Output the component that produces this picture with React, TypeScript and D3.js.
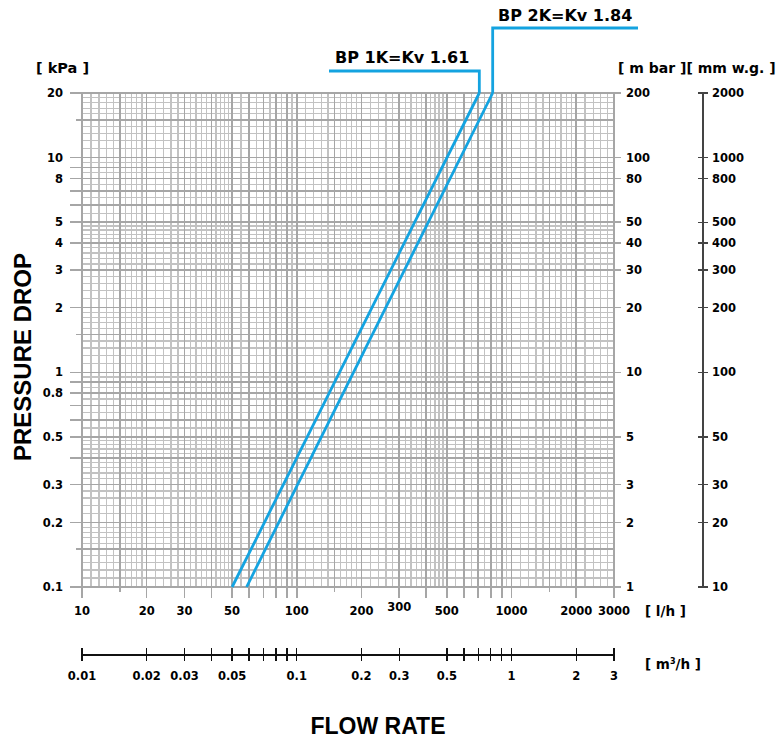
import React from "react";
import * as d3 from "d3";

const W = 784;
const H = 740;

// Series (flow l/h vs pressure drop kPa)
const bp1Flow = [50, 708];
const bp1Drop = [0.1, 20];
const bp2Flow = [58.4, 817];
const bp2Drop = [0.1, 20];
const seriesNames = ["BP 1K=Kv 1.61", "BP 2K=Kv 1.84"];

// Tick labels
const kpaLabels = [20, 10, 8, 5, 4, 3, 2, 1, 0.8, 0.5, 0.3, 0.2, 0.1];
const mbarLabels = [200, 100, 80, 50, 40, 30, 20, 10, 5, 3, 2, 1];
const mmwgLabels = [2000, 1000, 800, 500, 400, 300, 200, 100, 50, 30, 20, 10];
const lhLabels = [10, 20, 30, 50, 100, 200, 300, 500, 1000, 2000, 3000];
const m3hLabels = [0.01, 0.02, 0.03, 0.05, 0.1, 0.2, 0.3, 0.5, 1, 2, 3];
const m3hTicks = [0.01, 0.02, 0.03, 0.04, 0.05, 0.06, 0.07, 0.08, 0.09, 0.1, 0.2, 0.3, 0.5, 0.6, 0.7, 0.8, 0.9, 1, 2, 3];
const mantissas = [1, 1.5, 2, 3, 4, 5, 6, 7, 8, 9];

const X0 = 82, X1 = 614, Y0 = 587, Y1 = 93;
const x = d3.scaleLog().domain([10, 3000]).range([X0, X1]);
const xm3 = d3.scaleLog().domain([0.01, 3]).range([X0, X1]);
const y = d3.scaleLog().domain([0.1, 20]).range([Y0, Y1]);
const yMbar = d3.scaleLog().domain([1, 200]).range([Y0, Y1]);
const yMm = d3.scaleLog().domain([10, 2000]).range([Y0, Y1]);

function logGrid(lo: number, hi: number) {
  const out: { v: number; major: boolean }[] = [];
  for (let dec = Math.floor(Math.log10(lo)); dec <= Math.ceil(Math.log10(hi)); dec++) {
    const b = Math.pow(10, dec);
    const steps: [number, number, number][] = [[1, 2, 0.1], [2, 5, 0.2], [5, 10, 0.5]];
    for (const [a, c, s] of steps) {
      const n = Math.round((c - a) / s);
      for (let i = 0; i < n; i++) {
        const m = +(a + i * s).toFixed(2);
        const v = +(m * b).toPrecision(6);
        if (v >= lo * 0.999 && v <= hi * 1.001) {
          out.push({ v, major: mantissas.includes(m) });
        }
      }
    }
  }
  out.push({ v: hi, major: true });
  return out;
}

const fmt = (v: number) => String(v);
const LBL = "'DejaVu Sans', sans-serif";
const TTL = "'Liberation Sans', Arial, sans-serif";
const BLUE = "#14a3e0";

export default function App() {
  const xGrid = logGrid(10, 3000);
  const yGrid = logGrid(0.1, 20);
  const line = d3.line<[number, number]>().x(d => x(d[0])).y(d => y(d[1]));
  const s1: [number, number][] = bp1Flow.map((f, i) => [f, bp1Drop[i]]);
  const s2: [number, number][] = bp2Flow.map((f, i) => [f, bp2Drop[i]]);
  const top1 = x(bp1Flow[1]);
  const top2 = x(bp2Flow[1]);

  const xTickVals = xGrid.filter(g => g.major).map(g => g.v);
  const yTickVals = yGrid.filter(g => g.major).map(g => g.v);
  const isShort = (v: number) => Math.abs(v / Math.pow(10, Math.floor(Math.log10(v))) - 1.5) < 1e-6;

  return (
    <svg width={W} height={H} style={{ position: "absolute", left: 0, top: 0, background: "#fff" }}>
      {/* grid */}
      <g shapeRendering="crispEdges">
        {xGrid.filter(g => !g.major).map((g, i) => (
          <line key={"xm" + i} x1={x(g.v)} x2={x(g.v)} y1={Y1} y2={Y0} stroke="#c2c2c2" strokeWidth={1.3} />
        ))}
        {yGrid.filter(g => !g.major).map((g, i) => (
          <line key={"ym" + i} x1={X0} x2={X1} y1={y(g.v)} y2={y(g.v)} stroke="#c2c2c2" strokeWidth={1.3} />
        ))}
        {xGrid.filter(g => g.major).map((g, i) => (
          <line key={"xM" + i} x1={x(g.v)} x2={x(g.v)} y1={Y1} y2={Y0} stroke="#a6a6a6" strokeWidth={1.6} />
        ))}
        {yGrid.filter(g => g.major).map((g, i) => (
          <line key={"yM" + i} x1={X0} x2={X1} y1={y(g.v)} y2={y(g.v)} stroke="#a6a6a6" strokeWidth={1.6} />
        ))}
        {/* left ticks */}
        {yTickVals.map((v, i) => (
          <line key={"lt" + i} x1={isShort(v) ? 76 : 70} x2={X0} y1={y(v)} y2={y(v)} stroke="#a6a6a6" strokeWidth={1.6} />
        ))}
        {/* bottom ticks */}
        {xTickVals.map((v, i) => (
          <line key={"bt" + i} x1={x(v)} x2={x(v)} y1={Y0} y2={isShort(v) ? 592 : 598} stroke="#a6a6a6" strokeWidth={1.6} />
        ))}
        {/* right mbar ticks */}
        {mbarLabels.map((v, i) => (
          <line key={"rt" + i} x1={X1} x2={621} y1={yMbar(v)} y2={yMbar(v)} stroke="#a6a6a6" strokeWidth={1.6} />
        ))}
      </g>

      {/* left labels */}
      {kpaLabels.map((v, i) => (
        <text key={"kl" + i} x={63} y={y(v)} dy="0.36em" textAnchor="end" fontFamily={LBL} fontWeight="bold" fontSize={11.5}>{fmt(v)}</text>
      ))}
      {/* mbar labels */}
      {mbarLabels.map((v, i) => (
        <text key={"ml" + i} x={626} y={yMbar(v)} dy="0.36em" fontFamily={LBL} fontWeight="bold" fontSize={11.5}>{fmt(v)}</text>
      ))}
      {/* mm w.g. axis */}
      <g shapeRendering="crispEdges">
        <line x1={703} x2={703} y1={yMm(2000)} y2={yMm(10)} stroke="#444" strokeWidth={1.5} />
        {mmwgLabels.map((v, i) => (
          <line key={"mt" + i} x1={698} x2={708} y1={yMm(v)} y2={yMm(v)} stroke="#444" strokeWidth={1.5} />
        ))}
      </g>
      {mmwgLabels.map((v, i) => (
        <text key={"wl" + i} x={712} y={yMm(v)} dy="0.36em" fontFamily={LBL} fontWeight="bold" fontSize={11.5}>{fmt(v)}</text>
      ))}

      {/* bottom l/h labels */}
      {lhLabels.map((v, i) => (
        <text key={"bl" + i} x={x(v)} y={v === 300 ? 607 : 611} dy="0.36em" textAnchor="middle" fontFamily={LBL} fontWeight="bold" fontSize={11.5}>{fmt(v)}</text>
      ))}
      <text x={645} y={611} dy="0.36em" fontFamily={LBL} fontWeight="bold" fontSize={13.5}>[ l/h ]</text>

      {/* m3/h axis */}
      <g shapeRendering="crispEdges">
        <line x1={X0} x2={X1} y1={655} y2={655} stroke="#111" strokeWidth={1.5} />
        {m3hTicks.map((v, i) => (
          <line key={"m3t" + i} x1={xm3(v)} x2={xm3(v)} y1={648} y2={661} stroke="#111" strokeWidth={1.3} />
        ))}
      </g>
      {m3hLabels.map((v, i) => (
        <text key={"m3l" + i} x={xm3(v)} y={676} dy="0.36em" textAnchor="middle" fontFamily={LBL} fontWeight="bold" fontSize={11.5}>{fmt(v)}</text>
      ))}
      <text x={645} y={664} dy="0.36em" fontFamily={LBL} fontWeight="bold" fontSize={13.5}>
        [ m<tspan dy="-5" fontSize={8}>3</tspan><tspan dy="5">/h ]</tspan>
      </text>

      {/* unit headers */}
      <text x={36} y={73} fontFamily={LBL} fontWeight="bold" fontSize={14.5}>[ kPa ]</text>
      <text x={618} y={73} fontFamily={LBL} fontWeight="bold" fontSize={14}>[ m bar ][ mm w.g. ]</text>

      {/* series */}
      <path d={line(s1) || ""} fill="none" stroke={BLUE} strokeWidth={2.8} />
      <path d={line(s2) || ""} fill="none" stroke={BLUE} strokeWidth={2.8} />
      <path d={`M329,71 H${top1} V${Y1}`} fill="none" stroke={BLUE} strokeWidth={2.8} />
      <path d={`M638,28 H${top2} V${Y1}`} fill="none" stroke={BLUE} strokeWidth={2.8} />
      <text x={335} y={63} fontFamily={LBL} fontWeight="bold" fontSize={16}>{seriesNames[0]}</text>
      <text x={498} y={21} fontFamily={LBL} fontWeight="bold" fontSize={16}>{seriesNames[1]}</text>

      {/* titles */}
      <text transform="translate(31,357) rotate(-90)" textAnchor="middle" fontFamily={TTL} fontWeight="bold" fontSize={24}>PRESSURE DROP</text>
      <text x={378} y={734} textAnchor="middle" fontFamily={TTL} fontWeight="bold" fontSize={23}>FLOW RATE</text>
    </svg>
  );
}
